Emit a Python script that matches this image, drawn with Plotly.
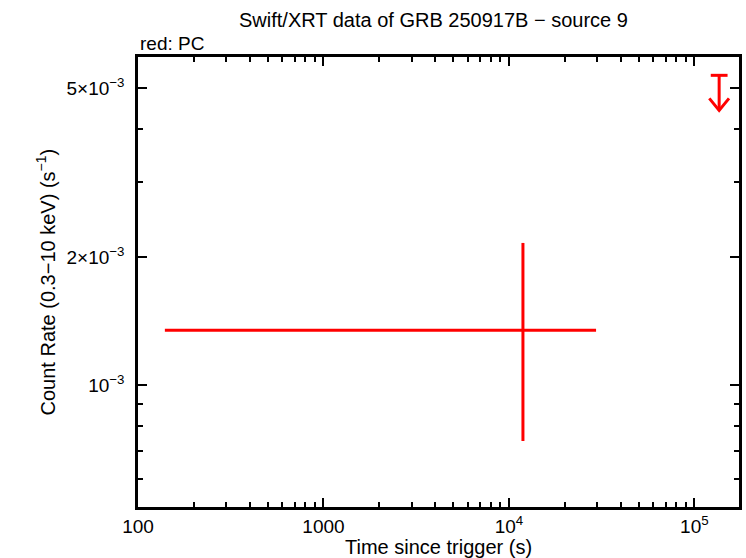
import plotly.graph_objects as go
import numpy as np

# ---- data ----
pc_time = [1.19e4]
pc_time_lo = [139.6]      # start of bin (s)
pc_time_hi = [2.95e4]     # end of bin (s)
pc_rate = [1.346e-3]
pc_rate_lo = [7.38e-4]
pc_rate_hi = [2.16e-3]

ul_time = [1.36e5]
ul_rate = [5.36e-3]

x_tickvals = [100, 1000, 1e4, 1e5]
x_ticktext = ["100", "1000", "10<sup>4</sup>", "10<sup>5</sup>"]
y_tickvals = [1e-3, 2e-3, 5e-3]
y_ticktext = ["10<sup>−3</sup>", "2×10<sup>−3</sup>", "5×10<sup>−3</sup>"]

RED = "#ff0000"
FONT = "Liberation Sans, Arial, Helvetica, sans-serif"

fig = go.Figure()

# PC point with asymmetric errors
fig.add_trace(go.Scatter(
    x=pc_time, y=pc_rate, mode="markers",
    marker=dict(size=1, color=RED),
    error_x=dict(type="data", symmetric=False,
                 array=[h - t for h, t in zip(pc_time_hi, pc_time)],
                 arrayminus=[t - l for l, t in zip(pc_time_lo, pc_time)],
                 color=RED, thickness=3, width=0),
    error_y=dict(type="data", symmetric=False,
                 array=[h - r for h, r in zip(pc_rate_hi, pc_rate)],
                 arrayminus=[r - l for l, r in zip(pc_rate_lo, pc_rate)],
                 color=RED, thickness=3, width=0),
    showlegend=False, hoverinfo="skip"))

# upper limit arrow(s)
arrow_len = 0.827   # multiplicative length of arrow shaft (style)
cap_half = 1.11
head_x = 1.13
head_y = 1.067
for t, r in zip(ul_time, ul_rate):
    tip = r * arrow_len
    fig.add_trace(go.Scatter(x=[t, t], y=[r, tip], mode="lines",
                             line=dict(color=RED, width=3),
                             showlegend=False, hoverinfo="skip"))
    fig.add_trace(go.Scatter(x=[t / cap_half, t * cap_half], y=[r, r], mode="lines",
                             line=dict(color=RED, width=3),
                             showlegend=False, hoverinfo="skip"))
    fig.add_trace(go.Scatter(x=[t / head_x, t, t * head_x],
                             y=[tip * head_y, tip, tip * head_y], mode="lines",
                             line=dict(color=RED, width=3),
                             showlegend=False, hoverinfo="skip"))

x_minor = [m * 10 ** d for d in range(2, 5) for m in range(2, 10)]
y_minor = [m * 10 ** d for d in (-4, -3) for m in range(2, 10)]
y_minor = [v for v in y_minor if v not in (2e-3, 5e-3)]

axis_common = dict(
    type="log", showline=True, linecolor="black", linewidth=2.5,
    mirror="allticks", ticks="inside", ticklen=9, tickwidth=2,
    tickcolor="black", showgrid=False, zeroline=False,
    tickfont=dict(family=FONT, size=19, color="black"),
    tickmode="array",
)

fig.update_xaxes(**axis_common,
                 range=[np.log10(100), np.log10(1.74e5)],
                 tickvals=x_tickvals, ticktext=x_ticktext,
                 minor=dict(tickmode="array", tickvals=x_minor, ticks="inside",
                            ticklen=5, tickwidth=2, tickcolor="black", showgrid=False))
fig.update_yaxes(**axis_common,
                 range=[np.log10(5.16e-4), np.log10(5.92e-3)],
                 tickvals=y_tickvals, ticktext=y_ticktext, ticklabelstandoff=7,
                 minor=dict(tickmode="array", tickvals=y_minor, ticks="inside",
                            ticklen=5, tickwidth=2, tickcolor="black", showgrid=False))

fig.update_layout(
    width=746, height=558,
    margin=dict(l=138, r=4, t=57, b=51),
    paper_bgcolor="white", plot_bgcolor="white",
    font=dict(family=FONT, size=19, color="black"),
    showlegend=False,
    annotations=[
        dict(text="Swift/XRT data of GRB 250917B − source 9", xref="paper", yref="paper",
             x=(434.5 - 138) / 604, y=1 + (57 - 20) / 450, xanchor="center", yanchor="middle",
             showarrow=False, font=dict(family=FONT, size=20)),
        dict(text="red: PC", xref="paper", yref="paper",
             x=0, y=1 + (57 - 43) / 450, xanchor="left", yanchor="middle",
             showarrow=False, font=dict(family=FONT, size=19)),
        dict(text="Time since trigger (s)", xref="paper", yref="paper",
             x=0.5, y=(507 - 547) / 450, xanchor="center", yanchor="middle",
             showarrow=False, font=dict(family=FONT, size=20)),
        dict(text="Count Rate (0.3−10 keV) (s<sup>−1</sup>)", xref="paper", yref="paper",
             x=(45 - 138) / 604, y=0.5, xanchor="center", yanchor="middle",
             textangle=-90, showarrow=False, font=dict(family=FONT, size=20)),
    ],
)

fig.write_html("out.html", config={"displayModeBar": False},
               post_script="document.body.style.margin='0px';document.body.style.overflow='hidden';")
